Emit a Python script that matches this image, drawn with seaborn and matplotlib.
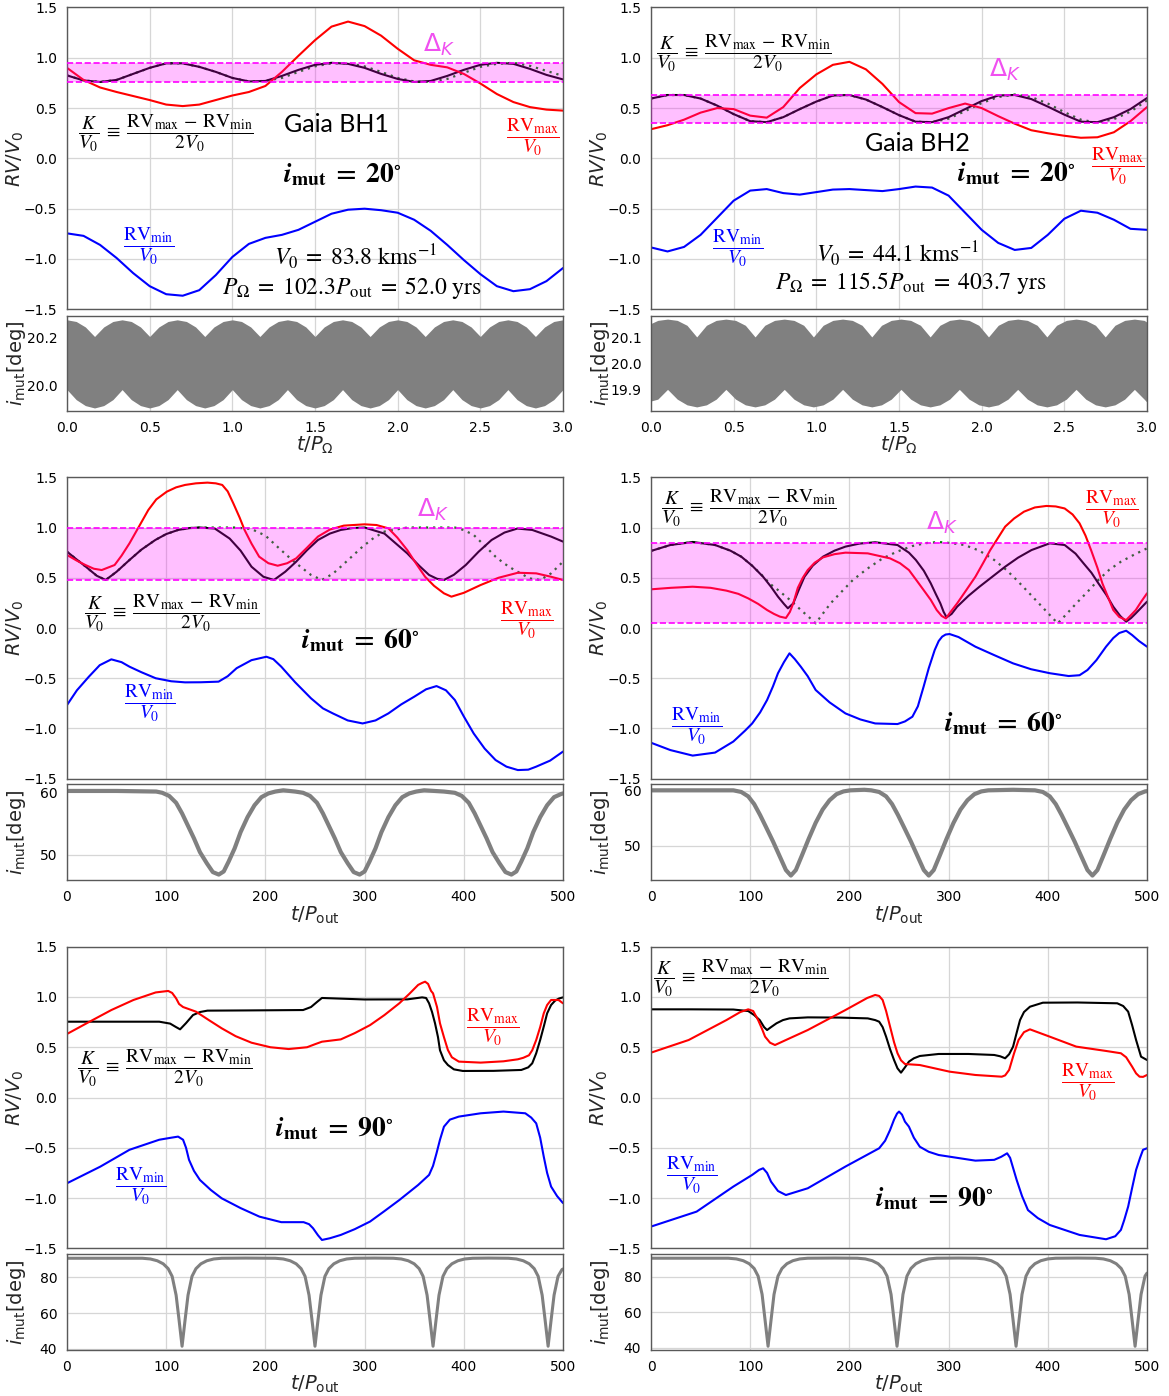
import numpy as np
import matplotlib
matplotlib.use("Agg")
import matplotlib.pyplot as plt
import seaborn as sns

# ==========================================
# Data
# ==========================================
# --- top row: i_mut = 20 deg, x in t/P_Omega
T_OMEGA = list(np.round(np.linspace(0, 3, 31), 2))

BH1_K = [0.825, 0.775, 0.76, 0.78, 0.84, 0.90, 0.945, 0.945, 0.91, 0.86, 0.80, 0.765, 0.77, 0.82,
         0.88, 0.93, 0.95, 0.94, 0.90, 0.84, 0.79, 0.76, 0.77, 0.82, 0.88, 0.93, 0.95, 0.94, 0.89,
         0.83, 0.785]
BH1_DOT = [0.825, 0.775, 0.76, 0.78, 0.84, 0.90, 0.945, 0.945, 0.91, 0.86, 0.80, 0.765, 0.77, 0.80,
           0.86, 0.915, 0.945, 0.945, 0.915, 0.86, 0.80, 0.765, 0.76, 0.79, 0.85, 0.91, 0.94, 0.95,
           0.92, 0.87, 0.82]
BH1_MAX = [0.90, 0.78, 0.705, 0.66, 0.62, 0.58, 0.535, 0.52, 0.535, 0.58, 0.625, 0.66, 0.72, 0.86,
           1.02, 1.175, 1.31, 1.36, 1.315, 1.22, 1.09, 0.975, 0.93, 0.905, 0.84, 0.745, 0.64, 0.56,
           0.51, 0.485, 0.475]
BH1_MIN = [-0.745, -0.77, -0.86, -0.99, -1.14, -1.27, -1.35, -1.365, -1.31, -1.16, -0.98, -0.85,
           -0.79, -0.76, -0.71, -0.63, -0.55, -0.51, -0.50, -0.515, -0.54, -0.61, -0.72, -0.86,
           -1.01, -1.15, -1.27, -1.32, -1.30, -1.22, -1.09]
BH1_BAND = (0.76, 0.95)

BH2_K = [0.595, 0.63, 0.63, 0.595, 0.525, 0.44, 0.37, 0.36, 0.41, 0.49, 0.565, 0.625, 0.63, 0.585,
         0.51, 0.43, 0.365, 0.36, 0.41, 0.49, 0.57, 0.625, 0.63, 0.59, 0.515, 0.435, 0.365, 0.36,
         0.41, 0.49, 0.60]
BH2_DOT = [0.595, 0.63, 0.63, 0.595, 0.525, 0.44, 0.37, 0.36, 0.41, 0.49, 0.565, 0.625, 0.63, 0.585,
           0.51, 0.43, 0.365, 0.36, 0.395, 0.47, 0.55, 0.61, 0.635, 0.61, 0.545, 0.46, 0.385, 0.355,
           0.39, 0.465, 0.575]
BH2_MAX = [0.29, 0.33, 0.385, 0.455, 0.50, 0.49, 0.425, 0.405, 0.51, 0.70, 0.835, 0.93, 0.96, 0.885,
           0.74, 0.56, 0.45, 0.445, 0.50, 0.545, 0.50, 0.42, 0.345, 0.28, 0.25, 0.225, 0.205, 0.21,
           0.26, 0.37, 0.51]
BH2_MIN = [-0.885, -0.925, -0.88, -0.76, -0.59, -0.42, -0.32, -0.305, -0.345, -0.36, -0.335, -0.31,
           -0.305, -0.315, -0.325, -0.305, -0.28, -0.29, -0.37, -0.54, -0.71, -0.84, -0.91, -0.89,
           -0.76, -0.60, -0.52, -0.54, -0.61, -0.70, -0.71]
BH2_BAND = (0.355, 0.635)

# envelope of the fast i_mut oscillation (top row bottom panels):
# one period = [peak, shoulder, shoulder, valley, shoulder, shoulder]
BH1_ENV_T = list(np.round(np.linspace(0, 3, 55), 4))
BH1_ENV_HI = [20.275, 20.268, 20.245, 20.205, 20.245, 20.268] * 9 + [20.275]
BH1_ENV_LO = [19.982, 19.940, 19.915, 19.905, 19.915, 19.940] * 9 + [19.982]

BH2_ENV_T = [0.0, 0.041] + list(np.round(0.100 + 0.05883 * np.arange(50), 4)) + [3.0]
BH2_ENV_HI = [20.155, 20.167] + [20.172, 20.167, 20.148, 20.103, 20.148, 20.167] * 8 + [20.172, 20.167, 20.160]
BH2_ENV_LO = [19.855, 19.862] + [19.900, 19.862, 19.840, 19.832, 19.840, 19.862] * 8 + [19.900, 19.862, 19.850]

# --- middle row: i_mut = 60 deg, x in t/P_out
A60_K_T = [0, 10, 19, 30, 39, 50, 63, 75, 89, 100, 112, 124, 134, 149, 164, 175, 186, 198, 208.6, 220,
           231, 242, 253, 265, 276, 288, 300, 320, 343, 355, 365, 373, 380, 390, 402, 415, 428, 441,
           454, 469, 488, 500]
A60_K = [0.76, 0.68, 0.61, 0.52, 0.478, 0.56, 0.677, 0.78, 0.876, 0.935, 0.976, 0.995, 1.0, 0.99,
         0.89, 0.77, 0.61, 0.51, 0.478, 0.56, 0.66, 0.775, 0.876, 0.94, 0.976, 0.995, 1.0, 0.94,
         0.743, 0.62, 0.528, 0.49, 0.478, 0.53, 0.627, 0.76, 0.876, 0.95, 0.99, 0.976, 0.91, 0.86]
A60_DOT_T = [0, 10, 19, 30, 39, 50, 63, 75, 89, 100, 112, 124, 134, 150, 170, 186, 200, 212, 222, 231,
             246, 257, 268, 276, 287, 298, 309, 320, 343, 365, 391, 400, 410, 421, 432, 441, 451, 459,
             466, 477, 488, 500]
A60_DOT = [0.76, 0.68, 0.61, 0.52, 0.478, 0.56, 0.677, 0.78, 0.876, 0.935, 0.976, 0.995, 1.0, 1.0,
           1.0, 0.985, 0.92, 0.81, 0.72, 0.644, 0.528, 0.478, 0.54, 0.61, 0.71, 0.81, 0.895, 0.96,
           1.0, 1.0, 1.0, 0.975, 0.926, 0.82, 0.71, 0.64, 0.577, 0.535, 0.494, 0.478, 0.544, 0.66]
A60_MAX_T = [0, 10, 18.6, 27, 35, 48, 55, 63, 72, 82, 90, 100.6, 110, 119, 130, 141.6, 150, 156.5,
             162, 167.7, 174, 179, 186, 193.7, 203, 212.4, 222, 231, 242, 253, 265, 279, 300, 312,
             324, 333, 343, 352, 361, 370, 380, 387.5, 400, 417, 435, 454.5, 473, 488, 500]
A60_MAX = [0.727, 0.67, 0.627, 0.59, 0.577, 0.627, 0.72, 0.843, 1.0, 1.175, 1.28, 1.357, 1.40, 1.424,
           1.44, 1.447, 1.44, 1.424, 1.36, 1.24, 1.10, 0.976, 0.84, 0.71, 0.645, 0.62, 0.645, 0.693,
           0.80, 0.91, 0.98, 1.019, 1.032, 1.025, 0.992, 0.90, 0.776, 0.64, 0.51, 0.42, 0.345,
           0.312, 0.35, 0.428, 0.50, 0.55, 0.544, 0.51, 0.478]
A60_MIN_T = [0, 10, 22, 33, 44.7, 55, 63, 75, 89.4, 105, 119, 135, 152.8, 162, 171, 186, 201, 208,
             216, 230, 246, 258, 268, 283, 298, 311, 324, 337, 350, 362, 372.5, 382, 391, 400, 410,
             421, 432, 443, 454.5, 465, 473, 487, 500]
A60_MIN = [-0.767, -0.62, -0.485, -0.37, -0.312, -0.34, -0.385, -0.44, -0.50, -0.53, -0.541, -0.54,
           -0.534, -0.48, -0.40, -0.32, -0.286, -0.31, -0.385, -0.54, -0.70, -0.80, -0.85, -0.92,
           -0.95, -0.92, -0.85, -0.76, -0.684, -0.61, -0.578, -0.62, -0.717, -0.88, -1.05, -1.20,
           -1.314, -1.38, -1.414, -1.41, -1.38, -1.32, -1.23]
A60_BAND = (0.478, 1.0)
A60_I_T = [0, 50, 90, 96, 103, 110, 116, 122, 128, 134, 141, 147, 153, 158, 163, 169, 175, 182, 189,
           196, 203, 210, 218, 230, 238, 245, 252, 258, 264, 270, 276, 283, 289, 295, 300, 305, 311,
           317, 324, 331, 338, 345, 352, 360, 380, 391, 398, 405, 411, 417, 423, 429, 436, 442, 448,
           453, 458, 464, 470, 477, 484, 491, 498, 500]
A60_I = [60.2, 60.2, 60.1, 59.9, 59.4, 58.3, 56.6, 54.6, 52.6, 50.4, 48.6, 47.2, 46.8, 47.3, 48.9,
         51.0, 53.6, 56.0, 57.9, 59.2, 59.8, 60.1, 60.3, 60.1, 59.9, 59.4, 58.3, 56.6, 54.6, 52.6,
         50.4, 48.6, 47.2, 46.8, 47.3, 48.9, 51.0, 53.6, 56.0, 57.9, 59.2, 59.8, 60.1, 60.3, 60.1,
         59.9, 59.4, 58.3, 56.6, 54.6, 52.6, 50.4, 48.6, 47.2, 46.8, 47.3, 48.9, 51.0, 53.6, 56.0,
         57.9, 59.2, 59.7, 59.8]

B60_K_T = [0, 19.5, 42, 64.6, 80, 91, 102, 113, 121, 128, 134, 138, 143.4, 149, 154.7, 163, 173.4,
           185, 196, 210, 226, 248.5, 260, 267, 275, 282, 287, 291.7, 295, 298, 303, 308.6, 320, 331,
           344, 357, 370, 383.6, 402, 417, 428, 436, 444, 451, 459, 466, 473, 479, 484, 488.7, 500]
B60_K = [0.767, 0.826, 0.856, 0.826, 0.77, 0.71, 0.62, 0.51, 0.41, 0.312, 0.24, 0.196, 0.245, 0.38,
         0.51, 0.62, 0.71, 0.77, 0.81, 0.84, 0.853, 0.826, 0.75, 0.677, 0.57, 0.445, 0.34, 0.245,
         0.16, 0.106, 0.14, 0.212, 0.32, 0.41, 0.51, 0.61, 0.70, 0.776, 0.843, 0.826, 0.74, 0.644,
         0.55, 0.445, 0.33, 0.212, 0.12, 0.063, 0.10, 0.146, 0.262]
B60_DOT_T = [0, 19.5, 42, 64.6, 80, 91, 102, 110, 120, 128, 140, 151, 159, 166, 173, 181, 192, 203.5,
             218, 233.5, 248, 263.5, 277, 290, 303, 316, 331, 346, 358, 368.6, 380, 391, 401, 410,
             419, 428.7, 440, 451, 462, 473.7, 487, 500]
B60_DOT = [0.767, 0.826, 0.856, 0.826, 0.77, 0.71, 0.62, 0.545, 0.44, 0.378, 0.28, 0.18, 0.11, 0.046,
           0.14, 0.245, 0.36, 0.478, 0.59, 0.693, 0.76, 0.816, 0.845, 0.856, 0.845, 0.826, 0.77,
           0.677, 0.58, 0.478, 0.36, 0.245, 0.14, 0.046, 0.14, 0.245, 0.36, 0.478, 0.58, 0.66, 0.73,
           0.793]
B60_MAX_T = [0, 20, 42, 60, 76, 88, 98, 108, 117, 124, 130, 136, 140, 143.4, 148, 153, 158, 165,
             173.4, 185, 196, 218.5, 241, 251, 260, 268, 274.8, 282, 288, 293, 297.3, 302, 308.6,
             318, 327, 335, 342, 350, 357, 366, 376, 387, 398.6, 408, 417, 425, 432, 438, 443.6, 450,
             455, 461, 466, 472, 479, 484, 488.7, 494, 500]
B60_MAX = [0.385, 0.40, 0.411, 0.40, 0.372, 0.34, 0.295, 0.24, 0.179, 0.14, 0.113, 0.10, 0.16, 0.245,
           0.40, 0.50, 0.577, 0.65, 0.703, 0.735, 0.75, 0.743, 0.693, 0.645, 0.577, 0.47, 0.378,
           0.28, 0.179, 0.12, 0.096, 0.16, 0.245, 0.38, 0.51, 0.65, 0.776, 0.90, 1.009, 1.09, 1.158,
           1.20, 1.215, 1.21, 1.19, 1.13, 1.042, 0.92, 0.776, 0.60, 0.445, 0.30, 0.179, 0.11, 0.079,
           0.13, 0.179, 0.26, 0.345]
B60_MIN_T = [0, 19.5, 42, 64.6, 83, 95, 102, 110, 117, 123, 128, 134, 139.6, 145, 151, 158, 166, 180,
             196, 211, 226, 248.5, 256, 263.5, 269, 274.8, 280, 286, 290, 293.5, 297, 301, 310, 327,
             346, 365, 383, 402, 421, 432, 440, 449, 458.7, 466, 472, 479, 485, 492, 500]
B60_MIN = [-1.142, -1.215, -1.27, -1.24, -1.13, -1.02, -0.95, -0.84, -0.717, -0.58, -0.45, -0.34,
           -0.252, -0.31, -0.385, -0.48, -0.617, -0.74, -0.85, -0.91, -0.95, -0.956, -0.93, -0.883,
           -0.78, -0.584, -0.40, -0.219, -0.13, -0.086, -0.065, -0.06, -0.09, -0.186, -0.27, -0.352,
           -0.41, -0.45, -0.478, -0.47, -0.418, -0.32, -0.186, -0.10, -0.05, -0.027, -0.07, -0.13,
           -0.186]
B60_BAND = (0.046, 0.85)
B60_I_T = [0, 50, 83, 91, 98, 104, 110, 116, 123, 130, 136, 141, 146, 152, 159, 166, 173, 180, 187,
           194, 201, 215, 222, 230, 237, 243, 249, 255, 262, 269, 275, 280, 285, 291, 298, 305, 312,
           319, 326, 333, 340, 365, 387, 395, 402, 408, 414, 420, 427, 434, 440, 445, 450, 456, 463,
           470, 477, 484, 491, 498, 500]
B60_I = [60.1, 60.1, 60.1, 59.8, 59.0, 57.6, 55.6, 53.4, 50.8, 48.0, 45.6, 44.6, 45.6, 48.2, 51.3,
         54.2, 56.6, 58.3, 59.4, 59.9, 60.1, 60.2, 60.1, 59.8, 59.0, 57.6, 55.6, 53.4, 50.8, 48.0,
         45.6, 44.6, 45.6, 48.2, 51.3, 54.2, 56.6, 58.3, 59.4, 59.9, 60.1, 60.2, 60.1, 59.8, 59.0,
         57.6, 55.6, 53.4, 50.8, 48.0, 45.6, 44.6, 45.6, 48.2, 51.3, 54.2, 56.6, 58.3, 59.4, 59.9,
         59.95]

# --- bottom row: i_mut = 90 deg, x in t/P_out
A90_K_T = [0, 50, 93, 104, 110, 114, 120, 127, 134, 141.6, 180, 238, 246, 252, 257, 300, 343, 358,
           362, 365, 368, 371, 374, 376, 380, 384, 390, 399, 430, 458, 465, 469, 473, 477, 481, 484,
           488, 492, 496, 500]
A90_K = [0.754, 0.754, 0.754, 0.735, 0.70, 0.678, 0.74, 0.82, 0.85, 0.864, 0.866, 0.87, 0.90, 0.95,
         0.99, 0.975, 0.976, 0.996, 0.99, 0.937, 0.85, 0.738, 0.60, 0.47, 0.37, 0.323, 0.28, 0.264,
         0.265, 0.274, 0.30, 0.34, 0.44, 0.572, 0.72, 0.837, 0.92, 0.963, 0.985, 0.996]
A90_MAX_T = [0, 22, 44.7, 67, 89.4, 102, 106, 110, 113, 117, 130, 143, 156, 170, 186, 205, 223.5, 242,
             250, 257, 276, 290, 305.5, 320, 335, 345, 354, 358, 361, 364, 367, 369, 373, 376, 380,
             384, 388, 395, 417, 440, 454.5, 460, 465.7, 469, 473, 477, 480.6, 484, 488, 495.5, 500]
A90_MAX = [0.632, 0.75, 0.87, 0.97, 1.045, 1.06, 1.04, 0.986, 0.93, 0.90, 0.854, 0.77, 0.688, 0.61,
           0.545, 0.50, 0.482, 0.50, 0.53, 0.555, 0.578, 0.64, 0.72, 0.82, 0.937, 1.03, 1.12, 1.14,
           1.152, 1.13, 1.06, 1.036, 0.90, 0.738, 0.60, 0.472, 0.40, 0.357, 0.347, 0.36, 0.38, 0.395,
           0.42, 0.47, 0.572, 0.70, 0.837, 0.92, 0.97, 0.97, 0.937]
A90_MIN_T = [0, 33.5, 63, 93, 105, 112, 117, 120, 123, 128, 134, 145, 156, 175, 194, 216, 238.5, 244,
             248, 253, 257, 265, 276, 290, 305.5, 320, 335, 354, 365, 369, 372.5, 376, 380, 386, 395,
             417, 440, 462, 468, 473, 477, 480.6, 484, 488, 494, 500]
A90_MIN = [-0.853, -0.688, -0.52, -0.42, -0.40, -0.389, -0.42, -0.50, -0.62, -0.73, -0.82, -0.92,
           -1.003, -1.10, -1.185, -1.24, -1.24, -1.26, -1.30, -1.37, -1.417, -1.40, -1.367, -1.31,
           -1.234, -1.13, -1.02, -0.87, -0.77, -0.68, -0.555, -0.42, -0.29, -0.22, -0.19, -0.157,
           -0.14, -0.157, -0.20, -0.257, -0.40, -0.588, -0.75, -0.886, -0.98, -1.05]
A90_I_T = [0, 40, 76, 84, 91, 97, 102, 106, 110, 113, 116, 119, 122, 126, 130, 135, 141, 148, 156,
           180, 210, 218, 225, 231, 236, 240, 244, 247, 250, 253, 256, 260, 264, 269, 275, 282, 290,
           310, 329, 337, 344, 350, 355, 359, 363, 366, 369, 372, 375, 379, 383, 388, 394, 401, 409,
           425, 445, 453, 460, 466, 471, 475, 479, 482, 485, 488, 491, 495, 499, 500]
A90_I = [90.6, 90.6, 90.6, 90.2, 89.2, 87.5, 84.8, 80.5, 70.0, 56.0, 41.5, 56.0, 70.0, 80.5, 84.8,
         87.5, 89.2, 90.2, 90.6, 90.7, 90.6, 90.2, 89.2, 87.5, 84.8, 80.5, 70.0, 56.0, 41.5, 56.0,
         70.0, 80.5, 84.8, 87.5, 89.2, 90.2, 90.6, 90.7, 90.6, 90.2, 89.2, 87.5, 84.8, 80.5, 70.0,
         56.0, 41.5, 56.0, 70.0, 80.5, 84.8, 87.5, 89.2, 90.2, 90.6, 90.7, 90.6, 90.2, 89.2, 87.5,
         84.8, 80.5, 70.0, 56.0, 41.5, 56.0, 70.0, 80.5, 84.3, 84.6]

B90_K_T = [0, 40, 83, 98, 104, 109.6, 114, 117, 121, 126.5, 133, 139.6, 158, 190, 218.5, 226, 230,
           233.5, 237, 241, 245, 248.5, 252, 256, 260, 265, 271, 290, 320, 346, 352, 357, 361, 365,
           368.5, 372, 376, 382, 395, 430, 470, 476, 481, 485, 489, 494, 500]
B90_K = [0.877, 0.877, 0.875, 0.86, 0.82, 0.77, 0.70, 0.671, 0.70, 0.738, 0.77, 0.787, 0.797, 0.795,
         0.787, 0.77, 0.754, 0.70, 0.605, 0.48, 0.373, 0.29, 0.247, 0.30, 0.357, 0.39, 0.413, 0.433,
         0.433, 0.423, 0.41, 0.39, 0.43, 0.506, 0.64, 0.77, 0.85, 0.903, 0.943, 0.945, 0.937, 0.91,
         0.854, 0.72, 0.572, 0.406, 0.373]
B90_MAX_T = [0, 38, 76, 90, 98, 103, 108, 112, 115, 120, 125, 140, 158, 196, 218, 226, 230, 233.5,
             237, 241, 245, 248.5, 252, 256, 271, 301, 327, 353.6, 357, 361, 366, 370.5, 376, 382,
             402, 428.7, 458.7, 473.7, 479, 485, 489, 492.5, 496, 500]
B90_MAX = [0.446, 0.572, 0.77, 0.85, 0.877, 0.86, 0.77, 0.68, 0.605, 0.545, 0.522, 0.59, 0.671, 0.87,
           0.99, 1.02, 1.01, 0.97, 0.86, 0.705, 0.55, 0.44, 0.37, 0.333, 0.323, 0.257, 0.224, 0.207,
           0.22, 0.274, 0.44, 0.572, 0.65, 0.678, 0.605, 0.506, 0.463, 0.44, 0.40, 0.307, 0.24,
           0.207, 0.205, 0.224]
B90_MIN_T = [0, 46, 83, 102, 109, 113, 117, 121, 128, 136, 158, 196, 230, 236, 241, 245, 248, 250,
             253, 256, 260, 265, 271, 280, 290, 327, 346, 353, 359, 362, 365, 368.6, 374, 380, 390,
             402, 432, 458.7, 468, 473.7, 477, 481, 485, 489, 493, 496, 500]
B90_MIN = [-1.284, -1.135, -0.886, -0.77, -0.72, -0.704, -0.75, -0.837, -0.93, -0.97, -0.903, -0.687,
           -0.505, -0.43, -0.323, -0.22, -0.16, -0.14, -0.17, -0.24, -0.29, -0.40, -0.49, -0.54,
           -0.572, -0.628, -0.62, -0.59, -0.555, -0.60, -0.70, -0.82, -0.98, -1.12, -1.20, -1.268,
           -1.367, -1.41, -1.38, -1.317, -1.22, -1.085, -0.90, -0.72, -0.60, -0.52, -0.505]
B90_I_T = [0, 40, 78, 86, 93, 99, 104, 108, 112, 115, 118, 121, 124, 128, 132, 137, 143, 150, 158,
           185, 208, 216, 223, 229, 234, 238, 242, 245, 248, 251, 254, 258, 262, 267, 273, 280, 288,
           310, 328, 336, 343, 349, 354, 358, 362, 365, 368, 371, 374, 378, 382, 387, 393, 400, 408,
           430, 448, 456, 463, 469, 474, 478, 482, 485, 488, 491, 494, 498, 500]
B90_I = [90.4, 90.4, 90.4, 90.0, 89.0, 87.3, 84.6, 80.3, 70.0, 55.5, 40.8, 55.5, 70.0, 80.3, 84.6,
         87.3, 89.0, 90.0, 90.4, 90.5, 90.4, 90.0, 89.0, 87.3, 84.6, 80.3, 70.0, 55.5, 40.8, 55.5,
         70.0, 80.3, 84.6, 87.3, 89.0, 90.0, 90.4, 90.5, 90.4, 90.0, 89.0, 87.3, 84.6, 80.3, 70.0,
         55.5, 40.8, 55.5, 70.0, 80.3, 84.6, 87.3, 89.0, 90.0, 90.4, 90.5, 90.4, 90.0, 89.0, 87.3,
         84.6, 80.3, 70.0, 55.5, 40.8, 55.5, 70.0, 80.3, 82.0]

# ==========================================
# Style
# ==========================================
sns.set_style("whitegrid", {"axes.edgecolor": "0.35", "grid.color": "0.84",
                            "text.color": "black", "xtick.color": "black", "ytick.color": "black"})
plt.rcParams["font.family"] = ["DejaVu Sans"]
plt.rcParams["axes.linewidth"] = 1.0
plt.rcParams["grid.linewidth"] = 0.9
plt.rcParams["xtick.labelsize"] = 10
plt.rcParams["ytick.labelsize"] = 10

RED, BLUE, MAG = "#ff0000", "#0000ff", "#ff00ff"
FRAC_K = (r"$\dfrac{K}{V_0}\;\equiv\;"
          r"\dfrac{\mathrm{RV}_{\mathrm{max}}\,-\,\mathrm{RV}_{\mathrm{min}}}{2V_0}$")
FRAC_MAX = r"$\dfrac{\mathrm{RV}_{\mathrm{max}}}{V_0}$"
FRAC_MIN = r"$\dfrac{\mathrm{RV}_{\mathrm{min}}}{V_0}$"


def imut_label(deg):
    return r"$\mathbfit{i}_{\mathbf{mut}}\;\mathbf{=}\;\mathbf{%d}^{\circ}$" % deg


def line(ax, x, y, color, lw=1.5, ls="-", z=2):
    sns.lineplot(x=x, y=y, ax=ax, color=color, lw=lw, linestyle=ls,
                 estimator=None, sort=False, zorder=z)


def serif(ax, x, y, s, size, color="black"):
    ax.text(x, y, s, fontsize=size, color=color, ha="center", va="center",
            math_fontfamily="stix", zorder=6)


def rv_panel(ax, xlim, kx, k, mx, mx_y, nx, nx_y, band=None, dx=None, dy=None):
    if dx is not None:
        line(ax, dx, dy, "green", lw=1.6, ls=(0, (1, 2.2)), z=2)
    line(ax, kx, k, "black", z=2)
    line(ax, mx, mx_y, RED, z=2)
    line(ax, nx, nx_y, BLUE, z=2)
    if band is not None:
        ax.axhspan(band[0], band[1], color=MAG, alpha=0.25, lw=0, zorder=3)
        for b in band:
            ax.axhline(b, color=MAG, ls="--", lw=1.2, zorder=4)
    ax.set_xlim(*xlim)
    ax.set_ylim(-1.5, 1.5)
    ax.set_yticks([-1.5, -1.0, -0.5, 0.0, 0.5, 1.0, 1.5])
    ax.tick_params(labelbottom=False)
    ax.set_ylabel(r"$RV/V_0$", fontsize=14)
    ax.yaxis.set_label_coords(-0.083, 0.5)
    ax.set_xlabel("")


def i_panel(ax, xlim, ylim, yticks, xticks, xlabel):
    ax.set_xlim(*xlim)
    ax.set_ylim(*ylim)
    ax.set_yticks(yticks)
    ax.set_xticks(xticks)
    ax.set_ylabel(r"$i_{\mathrm{mut}}$[deg]", fontsize=14)
    ax.yaxis.set_label_coords(-0.079, 0.5)
    ax.set_xlabel(xlabel, fontsize=14, labelpad=0)


# ==========================================
# Figure
# ==========================================
fig = plt.figure(figsize=(11.69, 13.96), dpi=100)
COLS = [0.05731, 0.55689]
WID = 0.42429
MAIN_ROWS = [(0.77844, 0.21619), (0.44219, 0.21590), (0.10580, 0.21605)]
SUB_ROWS = [(0.70537, 0.06827), (0.36927, 0.06877), (0.03295, 0.06855)]

ax = [[None] * 2 for _ in range(3)]
sub = [[None] * 2 for _ in range(3)]
for r in range(3):
    for c in range(2):
        ax[r][c] = fig.add_axes([COLS[c], MAIN_ROWS[r][0], WID, MAIN_ROWS[r][1]])
        sub[r][c] = fig.add_axes([COLS[c], SUB_ROWS[r][0], WID, SUB_ROWS[r][1]])

OMEGA_TICKS = [0.0, 0.5, 1.0, 1.5, 2.0, 2.5, 3.0]
OUT_TICKS = [0, 100, 200, 300, 400, 500]
XL_OMEGA = r"$t/P_\Omega$"
XL_OUT = r"$t/P_{\mathrm{out}}$"
DK_COLOR = "#f050f0"

# --- row 1, Gaia BH1
a = ax[0][0]
rv_panel(a, (0, 3), T_OMEGA, BH1_K, T_OMEGA, BH1_MAX, T_OMEGA, BH1_MIN, BH1_BAND, T_OMEGA, BH1_DOT)
a.set_xticks(OMEGA_TICKS)
serif(a, 0.60, 0.25, FRAC_K, 14)
a.text(1.632, 0.341, "Gaia BH1", fontsize=18, family="Lato", ha="center", va="center")
serif(a, 1.665, -0.156, imut_label(20), 20)
serif(a, 2.817, 0.215, FRAC_MAX, 14, RED)
serif(a, 0.492, -0.877, FRAC_MIN, 14, BLUE)
a.text(2.247, 1.126, r"$\Delta_K$", fontsize=18, color=DK_COLOR, ha="center", va="center")
serif(a, 1.744, -0.977, r"$V_0\;=\;83.8\ \mathrm{kms}^{-1}$", 17)
serif(a, 1.72, -1.29, r"$P_\Omega\;=\;102.3P_{\mathrm{out}}\;=\;52.0\ \mathrm{yrs}$", 17)

s = sub[0][0]
s.fill_between(BH1_ENV_T, BH1_ENV_LO, BH1_ENV_HI, color="gray", lw=0)
i_panel(s, (0, 3), (19.891, 20.291), [20.0, 20.2], OMEGA_TICKS, XL_OMEGA)

# --- row 1, Gaia BH2
a = ax[0][1]
rv_panel(a, (0, 3), T_OMEGA, BH2_K, T_OMEGA, BH2_MAX, T_OMEGA, BH2_MIN, BH2_BAND, T_OMEGA, BH2_DOT)
a.set_xticks(OMEGA_TICKS)
serif(a, 0.563, 1.043, FRAC_K, 14)
a.text(1.61, 0.149, "Gaia BH2", fontsize=18, family="Lato", ha="center", va="center")
serif(a, 2.21, -0.149, imut_label(20), 20)
serif(a, 2.824, -0.083, FRAC_MAX, 14, RED)
serif(a, 0.527, -0.894, FRAC_MIN, 14, BLUE)
a.text(2.144, 0.877, r"$\Delta_K$", fontsize=18, color=DK_COLOR, ha="center", va="center")
serif(a, 1.49, -0.944, r"$V_0\;=\;44.1\ \mathrm{kms}^{-1}$", 17)
serif(a, 1.57, -1.24, r"$P_\Omega\;=\;115.5P_{\mathrm{out}}\;=\;403.7\ \mathrm{yrs}$", 17)

s = sub[0][1]
s.fill_between(BH2_ENV_T, BH2_ENV_LO, BH2_ENV_HI, color="gray", lw=0)
i_panel(s, (0, 3), (19.815, 20.184), [19.9, 20.0, 20.1], OMEGA_TICKS, XL_OMEGA)

# --- row 2, 60 deg
a = ax[1][0]
rv_panel(a, (0, 500), A60_K_T, A60_K, A60_MAX_T, A60_MAX, A60_MIN_T, A60_MIN, A60_BAND,
         A60_DOT_T, A60_DOT)
a.set_xticks(OUT_TICKS)
serif(a, 106, 0.146, FRAC_K, 14)
serif(a, 296, -0.12, imut_label(60), 20)
serif(a, 463.9, 0.08, FRAC_MAX, 14, RED)
serif(a, 83.8, -0.75, FRAC_MIN, 14, BLUE)
a.text(368.9, 1.175, r"$\Delta_K$", fontsize=18, color=DK_COLOR, ha="center", va="center")
s = sub[1][0]
line(s, A60_I_T, A60_I, "gray", lw=3.0)
i_panel(s, (0, 500), (45.85, 61.23), [50, 60], OUT_TICKS, XL_OUT)

a = ax[1][1]
rv_panel(a, (0, 500), B60_K_T, B60_K, B60_MAX_T, B60_MAX, B60_MIN_T, B60_MIN, B60_BAND,
         B60_DOT_T, B60_DOT)
a.set_xticks(OUT_TICKS)
serif(a, 98.3, 1.19, FRAC_K, 14)
serif(a, 355.6, -0.95, imut_label(60), 20)
serif(a, 464.4, 1.18, FRAC_MAX, 14, RED)
serif(a, 45.8, -0.98, FRAC_MIN, 14, BLUE)
a.text(293.5, 1.05, r"$\Delta_K$", fontsize=18, color=DK_COLOR, ha="center", va="center")
s = sub[1][1]
line(s, B60_I_T, B60_I, "gray", lw=3.0)
i_panel(s, (0, 500), (43.7, 61.16), [50, 60], OUT_TICKS, XL_OUT)

# --- row 3, 90 deg
a = ax[2][0]
rv_panel(a, (0, 500), A90_K_T, A90_K, A90_MAX_T, A90_MAX, A90_MIN_T, A90_MIN)
a.set_xticks(OUT_TICKS)
serif(a, 98.7, 0.29, FRAC_K, 14)
serif(a, 270, -0.306, imut_label(90), 20)
serif(a, 429, 0.698, FRAC_MAX, 14, RED)
serif(a, 74.5, -0.886, FRAC_MIN, 14, BLUE)
s = sub[2][0]
line(s, A90_I_T, A90_I, "gray", lw=2.2)
i_panel(s, (0, 500), (39.4, 92.8), [40, 60, 80], OUT_TICKS, XL_OUT)

a = ax[2][1]
rv_panel(a, (0, 500), B90_K_T, B90_K, B90_MAX_T, B90_MAX, B90_MIN_T, B90_MIN)
a.set_xticks(OUT_TICKS)
serif(a, 90.8, 1.185, FRAC_K, 14)
serif(a, 286, -1.0, imut_label(90), 20)
serif(a, 440.7, 0.148, FRAC_MAX, 14, RED)
serif(a, 41.3, -0.77, FRAC_MIN, 14, BLUE)
s = sub[2][1]
line(s, B90_I_T, B90_I, "gray", lw=2.2)
i_panel(s, (0, 500), (38.7, 92.6), [40, 60, 80], OUT_TICKS, XL_OUT)

fig.savefig("out.png", dpi=100)
